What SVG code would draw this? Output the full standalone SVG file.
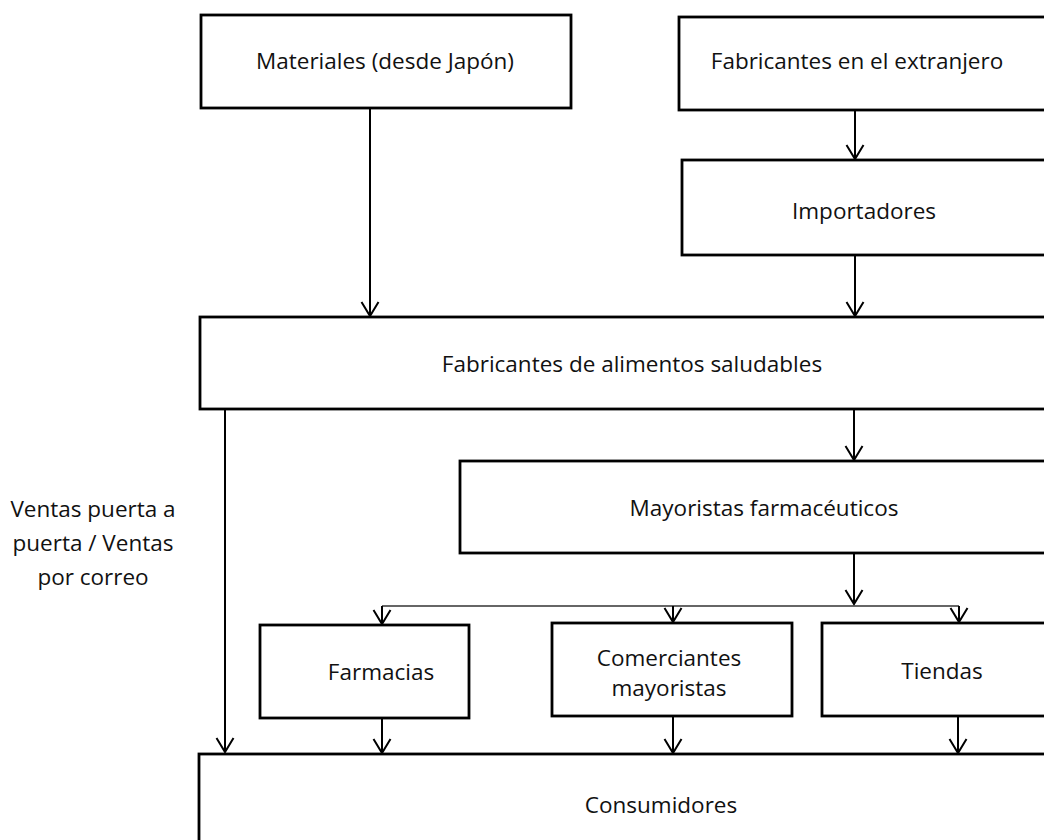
<svg xmlns="http://www.w3.org/2000/svg" width="1044" height="840" viewBox="0 0 1044 840">
<style>
.box{fill:#fff;stroke:#000;stroke-width:2.8}
.t{font-family:"Open Sans","Liberation Sans",sans-serif;font-size:22.5px;fill:#111;text-anchor:middle}
.c{stroke:#000;stroke-width:2;fill:none}
.thin{stroke:#333;stroke-width:1.4;fill:none}
</style>
<defs>
<marker id="ah" markerUnits="userSpaceOnUse" orient="auto" markerWidth="20" markerHeight="20" refX="0" refY="0" viewBox="-16 -10 18 20" overflow="visible">
<path d="M-14,-8.5 L0,0 L-14,8.5" fill="none" stroke="#000" stroke-width="2"/>
</marker>
</defs>
<rect width="1044" height="840" fill="#fff"/>
<g id="connectors">
<line class="c" x1="370" y1="108" x2="370" y2="316" marker-end="url(#ah)"/>
<line class="c" x1="855" y1="110" x2="855" y2="159" marker-end="url(#ah)"/>
<line class="c" x1="855" y1="255" x2="855" y2="316" marker-end="url(#ah)"/>
<line class="c" x1="854" y1="409" x2="854" y2="460" marker-end="url(#ah)"/>
<line class="c" x1="225" y1="409" x2="225" y2="752" marker-end="url(#ah)"/>
<line class="c" x1="854" y1="553" x2="854" y2="604" marker-end="url(#ah)"/>
<path class="thin" d="M382,606 L959,606"/>
<line class="c" x1="382" y1="606" x2="382" y2="624" marker-end="url(#ah)"/>
<line class="c" x1="673" y1="606" x2="673" y2="622" marker-end="url(#ah)"/>
<line class="c" x1="959" y1="606" x2="959" y2="622" marker-end="url(#ah)"/>
<line class="c" x1="382" y1="718" x2="382" y2="753" marker-end="url(#ah)"/>
<line class="c" x1="673" y1="716" x2="673" y2="753" marker-end="url(#ah)"/>
<line class="c" x1="958" y1="716" x2="958" y2="753" marker-end="url(#ah)"/>
</g>
<g id="materiales"><rect class="box" x="201" y="15" width="370" height="93"/><text class="t" x="385" y="69">Materiales (desde Japón)</text></g>
<g id="extranjero"><rect class="box" x="679" y="17" width="400" height="93"/><text class="t" x="857" y="69">Fabricantes en el extranjero</text></g>
<g id="importadores"><rect class="box" x="682" y="160" width="400" height="95"/><text class="t" x="864" y="219">Importadores</text></g>
<g id="fabricantes"><rect class="box" x="200" y="317" width="900" height="92"/><text class="t" x="632" y="372">Fabricantes de alimentos saludables</text></g>
<g id="mayoristas"><rect class="box" x="460" y="461" width="700" height="92"/><text class="t" x="764" y="516">Mayoristas farmacéuticos</text></g>
<g id="farmacias"><rect class="box" x="260" y="625" width="209" height="93"/><text class="t" x="381" y="680">Farmacias</text></g>
<g id="comerciantes"><rect class="box" x="552" y="623" width="240" height="93"/><text class="t" x="669" y="666">Comerciantes</text><text class="t" x="669" y="696">mayoristas</text></g>
<g id="tiendas"><rect class="box" x="822" y="623" width="300" height="93"/><text class="t" x="942" y="679">Tiendas</text></g>
<g id="consumidores"><rect class="box" x="199" y="754" width="900" height="200"/><text class="t" x="661" y="813">Consumidores</text></g>
<g id="ventas-label"><text class="t" x="93" y="517">Ventas puerta a</text><text class="t" x="93" y="551">puerta / Ventas</text><text class="t" x="93" y="585">por correo</text></g>
</svg>
